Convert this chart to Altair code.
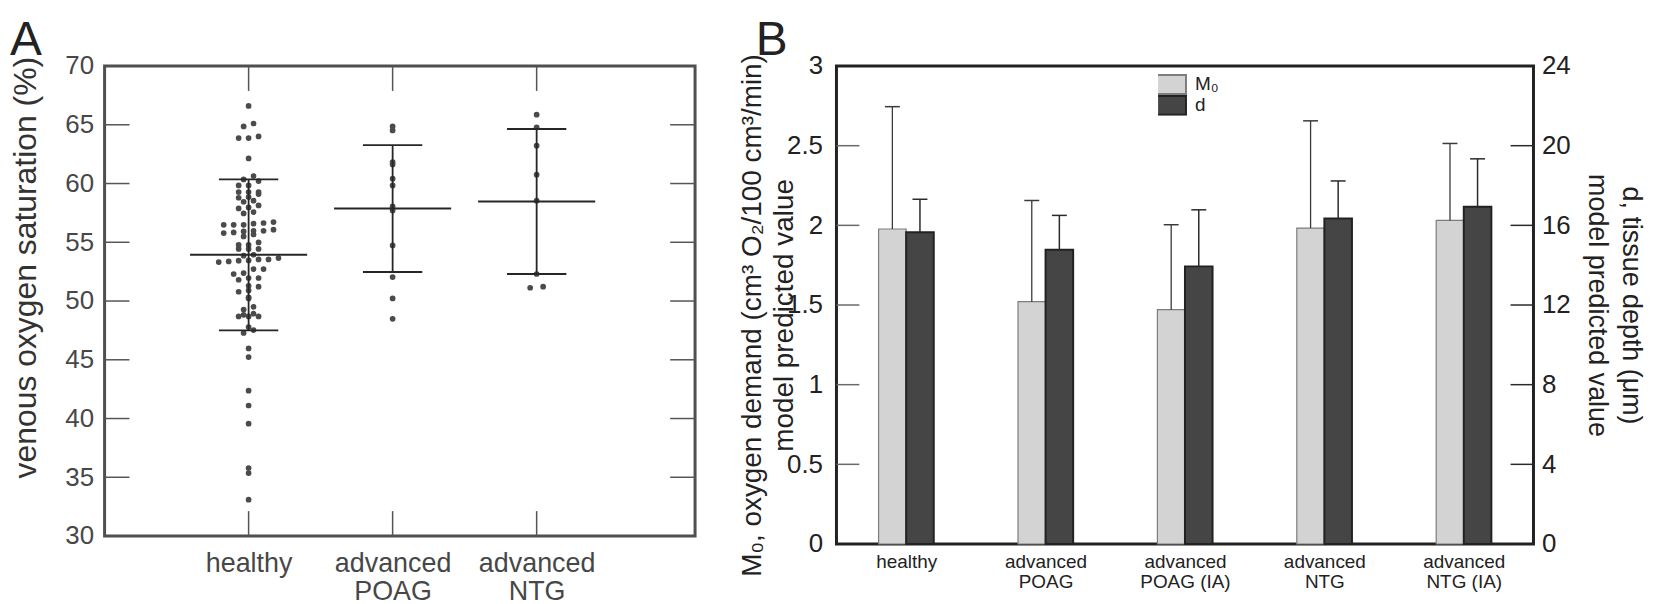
import altair as alt
import numpy as np
import pandas as pd

# ---------------- Panel A data ----------------
a_groups = ["healthy", "advanced|POAG", "advanced|NTG"]
a_healthy = [66.60, 65.11, 64.86, 63.87, 64.01, 63.87, 62.14, 60.64, 60.35, 60.21,
             59.84, 59.84, 59.27, 59.27, 59.27, 59.10, 58.85, 58.79, 58.45, 58.54,
             57.97, 58.14, 57.88, 57.57, 57.46, 56.49, 56.72, 56.64, 56.49, 56.58,
             56.49, 55.92, 55.78, 55.84, 55.98, 56.07, 55.67, 55.98, 55.50, 54.77,
             54.99, 54.77, 54.43, 54.43, 54.43, 53.94, 53.86, 53.32, 53.43, 53.54,
             53.46, 53.66, 53.54, 53.37, 52.72, 52.72, 52.30, 52.38, 51.96, 51.96,
             51.81, 51.22, 51.30, 50.90, 50.79, 50.31, 50.22, 49.51, 49.28, 48.92,
             48.69, 48.83, 48.69, 48.69, 47.79, 47.53, 47.28, 45.97, 45.23, 42.37,
             41.11, 39.56, 35.79, 35.36, 33.09]
a_poag = [64.86, 64.52, 61.83, 61.63, 60.41, 59.84, 58.05, 57.71, 54.73, 52.04, 50.22, 48.49]
a_ntg = [65.86, 64.78, 63.22, 60.75, 58.54, 52.30, 51.13, 51.22]
a_mean = [53.94, 57.88, 58.48]
a_upper = [60.35, 63.27, 64.64]
a_lower = [47.50, 52.47, 52.30]
a_ylabels = [30, 35, 40, 45, 50, 55, 60, 65, 70]
a_yticks = [35, 40, 45, 50, 55, 60, 65]

# ---------------- Panel B data ----------------
b_groups = ["healthy", "advanced|POAG", "advanced|POAG (IA)", "advanced|NTG", "advanced|NTG (IA)"]
b_series = ["M\u2080", "d"]
b_m0 = [1.977, 1.521, 1.471, 1.983, 2.031]
b_m0_hi = [2.745, 2.156, 2.004, 2.656, 2.514]
b_d = [15.65, 14.77, 13.94, 16.35, 16.93]
b_d_hi = [17.31, 16.50, 16.78, 18.23, 19.34]
b_left_labels = [0, 0.5, 1, 1.5, 2, 2.5, 3]
b_left_ticks = [0.5, 1, 1.5, 2, 2.5]
b_right_labels = [0, 4, 8, 12, 16, 20, 24]
b_right_ticks = [4, 8, 12, 16, 20]

# ---------------- layout / style ----------------
FONT = "Liberation Sans"
NARROW = "Liberation Sans Narrow, Liberation Sans"
A_XMAX = 4.1
A_W, A_H = 593, 472
B_W, B_H = 700, 480
A_PX = A_W / A_XMAX
B_PX = B_W / 5.0


def spread_offsets(vals, bin_w, step_px, px_per_unit):
    vals = np.asarray(vals, dtype=float)
    keys = np.floor((vals - 0.25) / bin_w)
    off = np.zeros(len(vals))
    for k in np.unique(keys):
        idx = np.where(keys == k)[0]
        n = len(idx)
        order = idx[np.argsort(vals[idx])]
        off[order] = (np.arange(n) - (n - 1) / 2.0) * step_px / px_per_unit
    return off


rows = []
for gi, (vals, step) in enumerate([(a_healthy, 10.0), (a_poag, 13.0), (a_ntg, 13.0)]):
    offs = spread_offsets(vals, 0.5, step, A_PX)
    for v, o in zip(vals, offs):
        rows.append({"x": gi + 1 + o, "v": v})
pts_df = pd.DataFrame(rows)

pos_a = list(range(1, len(a_groups) + 1))
sum_df = pd.DataFrame({"x": pos_a, "mean": a_mean, "upper": a_upper, "lower": a_lower})
sum_df["xl"] = sum_df["x"] - 58.8 / A_PX
sum_df["xr"] = sum_df["x"] + 58.8 / A_PX
sum_df["cl"] = sum_df["x"] - 29.8 / A_PX
sum_df["cr"] = sum_df["x"] + 29.8 / A_PX

xa = alt.Scale(domain=[0, A_XMAX], nice=False, zero=False)
ya = alt.Scale(domain=[30, 70], nice=False, zero=False)

a_label_expr = "split([" + ",".join("'" + s + "'" for s in a_groups) + "][datum.value - 1], '|')"

x_axis_a = alt.Axis(values=pos_a, labelExpr=a_label_expr, ticks=False, domain=False, grid=False,
                    labelFont=FONT, labelFontSize=27, labelColor="#474747", labelPadding=15,
                    labelLineHeight=28, labelOverlap=False, labelFlush=False, title=None)
y_axis_a = alt.Axis(values=a_ylabels, ticks=False, domain=False, grid=False,
                    labelFont=FONT, labelFontSize=26, labelColor="#474747", labelPadding=11,
                    labelOverlap=False, title="venous oxygen saturation (%)", titleFont=FONT,
                    titleFontSize=32, titleFontWeight="normal", titleColor="#333333",
                    titleX=-62, titleY=202)


def XA(f):
    return alt.X(f, scale=xa, axis=x_axis_a)


def YA(f):
    return alt.Y(f, scale=ya, axis=y_axis_a)


A_TICK = "#555555"
LINE = "#262626"
pts = alt.Chart(pts_df).mark_circle(size=33, color="#4b4b4b", opacity=1).encode(
    x=XA("x:Q"), y=YA("v:Q"))
mean_l = alt.Chart(sum_df).mark_rule(color=LINE, strokeWidth=2).encode(
    x=XA("xl:Q"), x2="xr:Q", y=YA("mean:Q"))
whisk = alt.Chart(sum_df).mark_rule(color=LINE, strokeWidth=1.8).encode(
    x=XA("x:Q"), y=YA("lower:Q"), y2="upper:Q")
cap_u = alt.Chart(sum_df).mark_rule(color=LINE, strokeWidth=1.8).encode(
    x=XA("cl:Q"), x2="cr:Q", y=YA("upper:Q"))
cap_l = alt.Chart(sum_df).mark_rule(color=LINE, strokeWidth=1.8).encode(
    x=XA("cl:Q"), x2="cr:Q", y=YA("lower:Q"))

yt_df = pd.DataFrame({"t": a_yticks})
xt_df = pd.DataFrame({"t": pos_a})
tick_l = alt.Chart(yt_df).mark_rule(color=A_TICK, strokeWidth=1.5).encode(
    y=YA("t:Q"), x=alt.value(0), x2=alt.value(25))
tick_r = alt.Chart(yt_df).mark_rule(color=A_TICK, strokeWidth=1.5).encode(
    y=YA("t:Q"), x=alt.value(A_W - 25), x2=alt.value(A_W))
tick_t = alt.Chart(xt_df).mark_rule(color=A_TICK, strokeWidth=1.5).encode(
    x=XA("t:Q"), y=alt.value(0), y2=alt.value(25))
tick_b = alt.Chart(xt_df).mark_rule(color=A_TICK, strokeWidth=1.5).encode(
    x=XA("t:Q"), y=alt.value(A_H - 25), y2=alt.value(A_H))

panel_a = alt.layer(pts, tick_l, tick_r, tick_t, tick_b, whisk, mean_l, cap_u, cap_l).properties(
    width=A_W, height=A_H,
    title=alt.TitleParams("A", anchor="start", frame="bounds", fontSize=48, fontWeight="normal",
                          font=FONT, color="#222222", offset=-12),
    view=alt.ViewBackground(stroke="#4f4f4f", strokeWidth=3),
)

# ---------------- Panel B ----------------
BAR_HALF = 27.7 / B_PX
CAP_HALF = 7.5 / B_PX
idx = np.arange(len(b_groups))
m0_df = pd.DataFrame({"x0": idx - BAR_HALF, "x1": idx * 1.0, "xc": idx - BAR_HALF / 2,
                      "v": b_m0, "hi": b_m0_hi, "series": b_series[0]})
d_df = pd.DataFrame({"x0": idx * 1.0, "x1": idx + BAR_HALF, "xc": idx + BAR_HALF / 2,
                     "v": b_d, "hi": b_d_hi, "series": b_series[1]})
for df in (m0_df, d_df):
    df["cl"] = df["xc"] - CAP_HALF
    df["cr"] = df["xc"] + CAP_HALF

xb = alt.Scale(domain=[-0.5, 4.5], nice=False, zero=False)
yl = alt.Scale(domain=[0, 3], nice=False, zero=False)
yr = alt.Scale(domain=[0, 24], nice=False, zero=False)
fill_sc = alt.Scale(domain=b_series, range=["#d3d3d3", "#454545"])
stroke_sc = alt.Scale(domain=b_series, range=["#7d7d7d", "#222222"])
# legend is positioned relative to the first panel's plot origin;
# the symbol is a 2:1 box drawn from a custom path (path units scaled by sqrt(size)/2)
legend_b = alt.Legend(orient="none", legendX=1058, legendY=8, title=None,
                      symbolType="M-8,-4.1H8V4.1H-8Z", symbolSize=21.4, symbolStrokeWidth=2,
                      labelFont=NARROW, labelFontSize=19, labelColor="#222222", labelOffset=18,
                      rowPadding=0, padding=0, clipHeight=21)

b_label_expr = "split([" + ",".join("'" + s + "'" for s in b_groups) + "][datum.value], '|')"
x_axis_b = alt.Axis(values=list(range(len(b_groups))), labelExpr=b_label_expr, ticks=False,
                    domain=False, grid=False, labelFont=NARROW, labelFontSize=19,
                    labelColor="#222222", labelPadding=9, labelLineHeight=20,
                    labelOverlap=False, labelFlush=False, title=None)
y_axis_l = alt.Axis(orient="left", values=b_left_labels, format="~g", ticks=False, domain=False,
                    grid=False, labelFont=FONT, labelFontSize=26, labelColor="#222222",
                    labelPadding=14, labelOverlap=False,
                    title=["M\u2080, oxygen demand (cm\u00b3 O\u2082/100 cm\u00b3/min)",
                           "model predicted value"],
                    titleFont=FONT, titleFontSize=28, titleFontWeight="normal",
                    titleColor="#222222", titleLineHeight=32, titleX=-70, titleY=250)
y_axis_r = alt.Axis(orient="right", values=b_right_labels, format="~g", ticks=False, domain=False,
                    grid=False, labelFont=FONT, labelFontSize=26, labelColor="#222222",
                    labelPadding=8, labelOverlap=False,
                    title=["d, tissue depth (\u03bcm)", "model predicted value"],
                    titleFont=FONT, titleFontSize=27, titleFontWeight="normal",
                    titleColor="#222222", titleLineHeight=34, titleX=83)


def XB(f):
    return alt.X(f, scale=xb, axis=x_axis_b)


def YL(f):
    return alt.Y(f, scale=yl, axis=y_axis_l)


def YR(f):
    return alt.Y(f, scale=yr, axis=y_axis_r)


m0_bars = alt.Chart(m0_df).mark_bar(strokeWidth=1.2).encode(
    x=XB("x0:Q"), x2="x1:Q", y=YL("v:Q"), y2=alt.datum(0),
    fill=alt.Fill("series:N", scale=fill_sc, legend=legend_b),
    stroke=alt.Stroke("series:N", scale=stroke_sc, legend=legend_b),
)
m0_err = alt.Chart(m0_df).mark_rule(color="#3a3a3a", strokeWidth=1.3).encode(
    x=XB("xc:Q"), y=YL("v:Q"), y2="hi:Q")
m0_cap = alt.Chart(m0_df).mark_rule(color="#3a3a3a", strokeWidth=1.5).encode(
    x=XB("cl:Q"), x2="cr:Q", y=YL("hi:Q"))
lt_df = pd.DataFrame({"t": b_left_ticks})
m0_ticks = alt.Chart(lt_df).mark_rule(color="#6a6a6a", strokeWidth=1.5).encode(
    y=YL("t:Q"), x=alt.value(0), x2=alt.value(23))
left_layer = alt.layer(m0_bars, m0_err, m0_cap, m0_ticks)

d_bars = alt.Chart(d_df).mark_bar(strokeWidth=2).encode(
    x=XB("x0:Q"), x2="x1:Q", y=YR("v:Q"), y2=alt.datum(0),
    fill=alt.Fill("series:N", scale=fill_sc, legend=legend_b),
    stroke=alt.Stroke("series:N", scale=stroke_sc, legend=legend_b),
)
d_err = alt.Chart(d_df).mark_rule(color="#2a2a2a", strokeWidth=1.5).encode(
    x=XB("xc:Q"), y=YR("v:Q"), y2="hi:Q")
d_cap = alt.Chart(d_df).mark_rule(color="#2a2a2a", strokeWidth=1.5).encode(
    x=XB("cl:Q"), x2="cr:Q", y=YR("hi:Q"))
rt_df = pd.DataFrame({"t": b_right_ticks})
d_ticks = alt.Chart(rt_df).mark_rule(color="#2a2a2a", strokeWidth=1.5).encode(
    y=YR("t:Q"), x=alt.value(B_W - 23), x2=alt.value(B_W))
right_layer = alt.layer(d_bars, d_err, d_cap, d_ticks)

panel_b = alt.layer(left_layer, right_layer).resolve_scale(y="independent").properties(
    width=B_W, height=B_H,
    title=alt.TitleParams("B", anchor="start", frame="bounds", fontSize=48, fontWeight="normal",
                          font=FONT, color="#222222", offset=-12, dx=17),
    view=alt.ViewBackground(stroke="#222222", strokeWidth=3),
)

chart = alt.hconcat(panel_a, panel_b, spacing=39).properties(
    padding={"left": 0, "top": 6, "right": 0, "bottom": 0}
).configure(font=FONT).configure_view(stroke=None)

chart.save("out.html", embed_options={"renderer": "svg", "actions": False})
